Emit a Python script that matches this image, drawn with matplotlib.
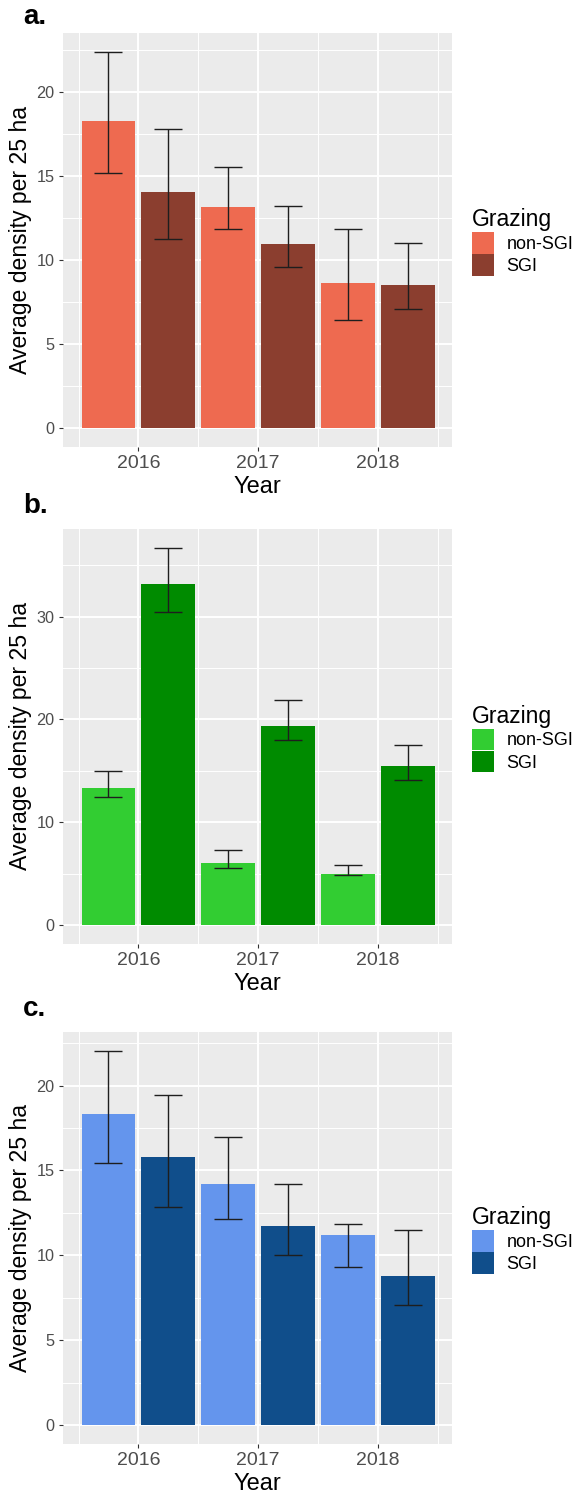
import numpy as np
import matplotlib
matplotlib.use("Agg")
import matplotlib.pyplot as plt
from matplotlib.patches import Patch
from matplotlib.ticker import MultipleLocator

plt.rcParams['font.family'] = ['Liberation Sans', 'DejaVu Sans']

years = ["2016", "2017", "2018"]
groups = ["non-SGI", "SGI"]

# Panel a
a_non_mean = [18.28, 13.19, 8.65]
a_non_low = [15.19, 11.84, 6.44]
a_non_high = [22.40, 15.54, 11.88]
a_sgi_mean = [14.06, 10.99, 8.53]
a_sgi_low = [11.25, 9.62, 7.07]
a_sgi_high = [17.82, 13.21, 11.01]

# Panel b
b_non_mean = [13.30, 6.07, 4.93]
b_non_low = [12.42, 5.58, 4.83]
b_non_high = [14.99, 7.30, 5.87]
b_sgi_mean = [33.18, 19.40, 15.50]
b_sgi_low = [30.49, 17.97, 14.14]
b_sgi_high = [36.68, 21.93, 17.55]

# Panel c
c_non_mean = [18.34, 14.19, 11.20]
c_non_low = [15.45, 12.16, 9.31]
c_non_high = [22.05, 16.96, 11.86]
c_sgi_mean = [15.77, 11.71, 8.80]
c_sgi_low = [12.84, 10.01, 7.08]
c_sgi_high = [19.45, 14.22, 11.47]

panels = [
    dict(tag="a.", non=(a_non_mean, a_non_low, a_non_high), sgi=(a_sgi_mean, a_sgi_low, a_sgi_high),
         colors=("#EE6A50", "#8B3E2F"), major=5, rect_px=(33, 447), label_y=17),
    dict(tag="b.", non=(b_non_mean, b_non_low, b_non_high), sgi=(b_sgi_mean, b_sgi_low, b_sgi_high),
         colors=("#32CD32", "#008B00"), major=10, rect_px=(529, 944), label_y=506),
    dict(tag="c.", non=(c_non_mean, c_non_low, c_non_high), sgi=(c_sgi_mean, c_sgi_low, c_sgi_high),
         colors=("#6495ED", "#104E8B"), major=5, rect_px=(1032, 1444), label_y=1009),
]

W, H = 579, 1494
fig = plt.figure(figsize=(W / 100, H / 100), dpi=100)

left_px, right_px = 63, 452
x = np.arange(1, len(years) + 1)
bw = 0.45
off = 0.25

for p in panels:
    top_px, bot_px = p["rect_px"]
    ax = fig.add_axes([left_px / W, 1 - bot_px / H, (right_px - left_px) / W, (bot_px - top_px) / H])
    ax.set_facecolor("#EBEBEB")
    for s in ax.spines.values():
        s.set_visible(False)

    for k, (series, col, sh) in enumerate(zip((p["non"], p["sgi"]), p["colors"], (-off, off))):
        mean, low, high = (np.array(v) for v in series)
        ax.bar(x + sh, mean, width=bw, color=col, edgecolor="none", zorder=2, label=groups[k])
        ax.errorbar(x + sh, mean, yerr=[mean - low, high - mean], fmt="none",
                    ecolor="#1E1E1E", elinewidth=1.0, capsize=10, capthick=1.0, zorder=3)

    allhigh = max(max(p["non"][2]), max(p["sgi"][2]))
    ax.set_ylim(-0.05 * allhigh, allhigh * 1.05)
    ax.set_xlim(0.37, 3.62)

    ax.yaxis.set_major_locator(MultipleLocator(p["major"]))
    ax.yaxis.set_minor_locator(MultipleLocator(p["major"] / 2))
    ax.set_xticks(x)
    ax.set_xticklabels(years)
    ax.set_xticks(np.arange(0.5, 4.0, 1.0), minor=True)
    ax.grid(which="major", color="white", linewidth=1.4, zorder=0)
    ax.grid(which="minor", color="white", linewidth=0.7, zorder=0)
    ax.set_axisbelow(True)

    ax.tick_params(axis="both", which="major", length=3, width=0.8, color="#333333", pad=3)
    ax.tick_params(axis="both", which="minor", length=0)
    ax.tick_params(axis="x", labelsize=14, labelcolor="#4D4D4D")
    ax.tick_params(axis="y", labelsize=11.7, labelcolor="#4D4D4D")

    ax.set_xlabel("Year", fontsize=17, color="black", labelpad=2.5)
    ax.set_ylabel("Average density per 25 ha", fontsize=16.6, color="black", labelpad=3)

    fig.text(23 / W, 1 - p["label_y"] / H, p["tag"], fontsize=20, fontweight="bold",
             ha="left", va="center", color="black")

    handles = [Patch(facecolor=c, edgecolor="none") for c in p["colors"]]
    ymid = 1 - ((top_px + bot_px) / 2 + 2) / H
    leg = fig.legend(handles, groups, title="Grazing", loc="center left",
                     bbox_to_anchor=(472 / W, ymid), frameon=False, fontsize=13,
                     title_fontsize=16.5, handlelength=1.2, handleheight=1.45,
                     handletextpad=0.7, labelspacing=0.05, borderpad=0, borderaxespad=0)
    leg._legend_box.align = "left"

fig.savefig("out.png", dpi=100)
